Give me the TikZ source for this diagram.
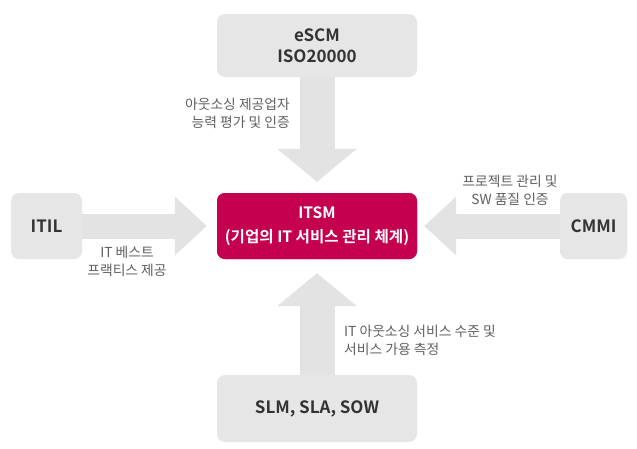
\documentclass[tikz,border=0pt]{standalone}
\usepackage{fontspec}
\setmainfont{Noto Sans CJK KR}[BoldFont={Noto Sans CJK KR Bold}]
\usetikzlibrary{arrows.meta}
\definecolor{boxgray}{HTML}{E6E6E6}
\definecolor{arrgray}{HTML}{E3E3E3}
\definecolor{itsmred}{HTML}{C5004F}
\definecolor{labelgray}{HTML}{606060}
\definecolor{darktext}{HTML}{333333}
\begin{document}
\begin{tikzpicture}[x=1pt,y=-1pt,
  graybox/.style={fill=boxgray, rounded corners=8pt, text=darktext,
    font=\bfseries\fontsize{17}{21}\selectfont, align=center, inner sep=0pt},
  redbox/.style={fill=itsmred, rounded corners=8pt, text=white,
    font=\bfseries\fontsize{15.6}{24}\selectfont, align=center, inner sep=0pt},
  varrow/.style={draw=arrgray, line width=35pt, -{Triangle[width=78pt,length=33pt]}},
  harrow/.style={draw=arrgray, line width=25pt, -{Triangle[width=57pt,length=32pt]}},
  lbl/.style={fill=white, text=labelgray, font=\fontsize{13.8}{18}\selectfont, inner sep=3pt}
]
\useasboundingbox[fill=white] (0,0) rectangle (637,448);
% boxes (positions)
\path (317,45.5) node[graybox, minimum width=200pt, minimum height=63pt] (escm) {eSCM\\ISO20000};
\path (317,226) node[redbox, minimum width=200pt, minimum height=66pt] (itsm) {ITSM\\(기업의 IT 서비스 관리 체계)};
\path (317,408.5) node[graybox, minimum width=200pt, minimum height=67pt] (slm) {SLM, SLA, SOW};
\path (46.5,226) node[graybox, minimum width=71pt, minimum height=66pt] (itil) {ITIL};
\path (593.5,226) node[graybox, minimum width=67pt, minimum height=66pt] (cmmi) {CMMI};
% arrows
\draw[varrow, shorten >=11pt] (escm.south) -- (itsm.north);
\draw[varrow, shorten >=14pt] (slm.north) -- (itsm.south);
\draw[harrow, shorten >=10pt] (itil.east) -- (itsm.west);
\draw[harrow, shorten >=7pt] (cmmi.west) -- (itsm.east);
% labels
\node[lbl, anchor=east, align=right] (l1) at (293,113) {아웃소싱 제공업자\\능력 평가 및 인증};
\node[lbl, align=center] (l2) at (127,261) {IT 베스트\\프랙티스 제공};
\node[lbl, align=center] (l3) at (510,190) {프로젝트 관리 및\\SW 품질 인증};
\node[lbl, anchor=west, align=left] (l4) at (341,340) {IT 아웃소싱 서비스 수준 및\\서비스 가용 측정};
% redraw boxes on top
\path (317,226) node[redbox, minimum width=200pt, minimum height=66pt] {ITSM\\(기업의 IT 서비스 관리 체계)};
\path (593.5,226) node[graybox, minimum width=67pt, minimum height=66pt] {CMMI};
\end{tikzpicture}
\end{document}
